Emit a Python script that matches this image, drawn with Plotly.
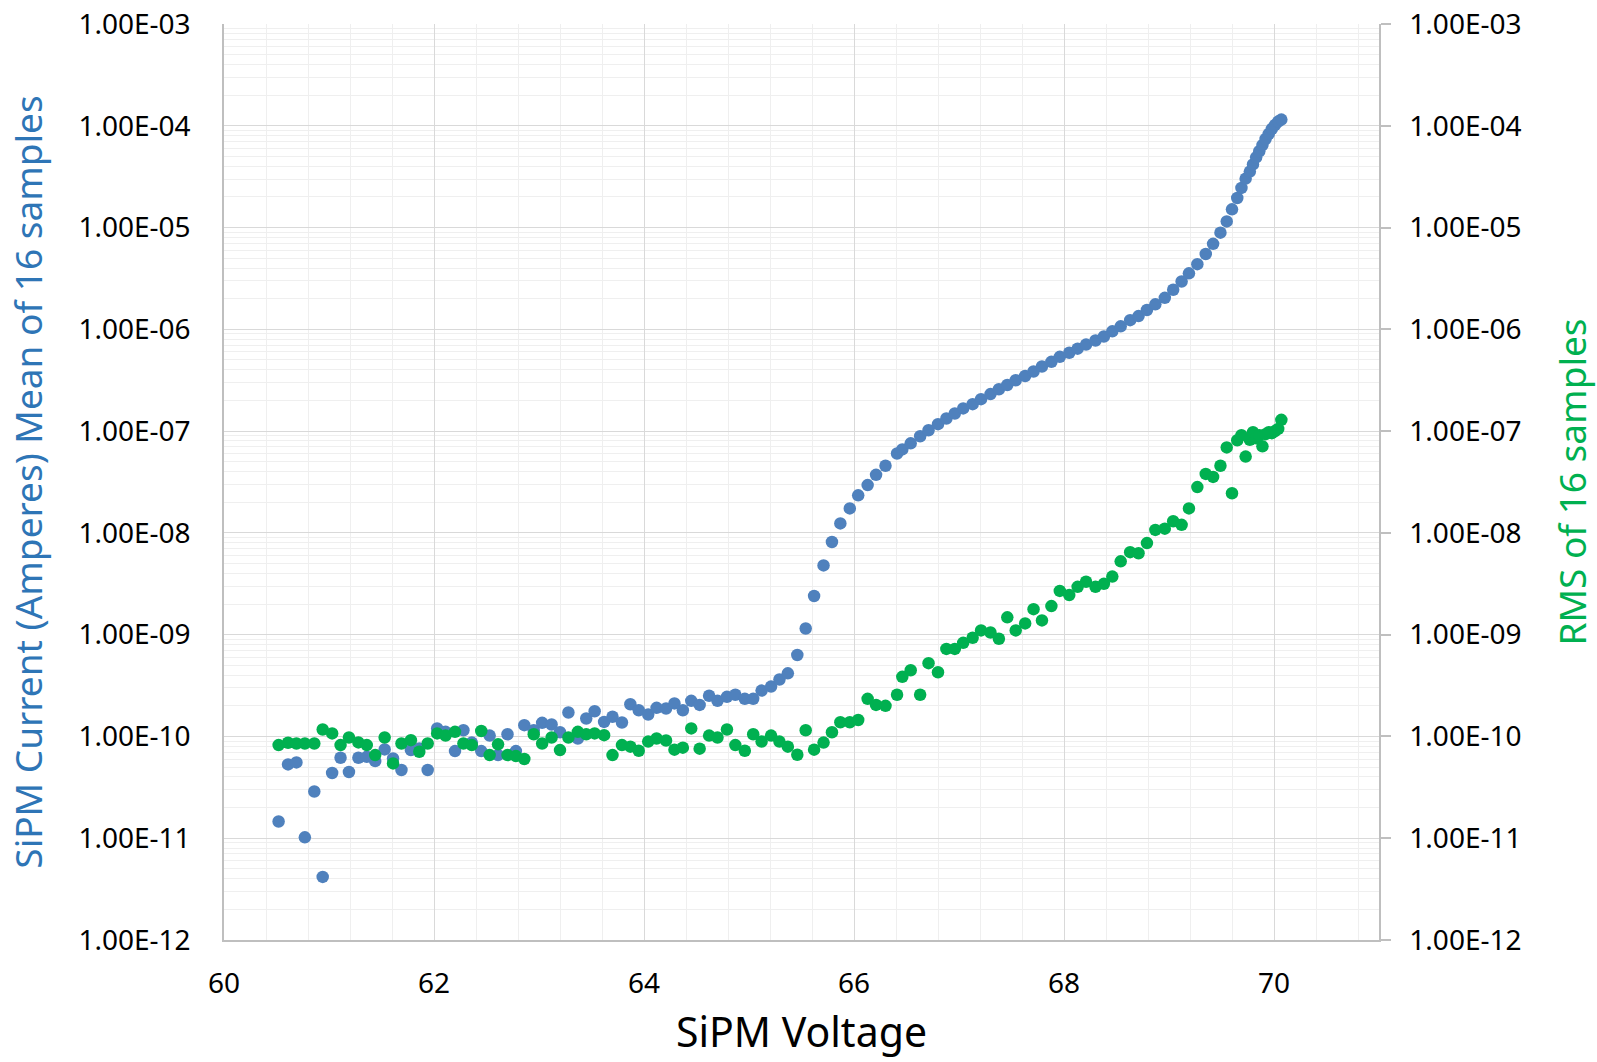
import plotly.graph_objects as go

# SiPM bias voltage (V)
voltage = [60.52, 60.61, 60.69, 60.77, 60.86, 60.94, 61.03, 61.11, 61.19, 61.28,
           61.36, 61.44, 61.53, 61.61, 61.69, 61.78, 61.86, 61.94, 62.03, 62.11,
           62.20, 62.28, 62.36, 62.45, 62.53, 62.61, 62.70, 62.78, 62.86, 62.95,
           63.03, 63.12, 63.20, 63.28, 63.37, 63.45, 63.53, 63.62, 63.70, 63.79,
           63.87, 63.95, 64.04, 64.12, 64.21, 64.29, 64.37, 64.45, 64.53, 64.62,
           64.70, 64.79, 64.87, 64.96, 65.04, 65.12, 65.21, 65.29, 65.37, 65.46,
           65.54, 65.62, 65.71, 65.79, 65.87, 65.96, 66.04, 66.13, 66.21, 66.30,
           66.41, 66.46, 66.54, 66.63, 66.71, 66.80, 66.88, 66.96, 67.04, 67.13,
           67.21, 67.30, 67.38, 67.46, 67.54, 67.63, 67.71, 67.79, 67.88, 67.96,
           68.05, 68.13, 68.21, 68.30, 68.38, 68.46, 68.54, 68.63, 68.71, 68.79,
           68.87, 68.96, 69.04, 69.12, 69.19, 69.27, 69.35, 69.42, 69.49, 69.55,
           69.60, 69.65, 69.69, 69.73, 69.77, 69.80, 69.83, 69.86, 69.89, 69.92,
           69.95, 69.98, 70.01, 70.04, 70.07]

# Mean of 16 samples (A)
mean_current = [1.46e-11, 5.31e-11, 5.56e-11, 1.02e-11, 2.88e-11, 4.17e-12, 4.37e-11, 6.17e-11, 4.47e-11, 6.17e-11,
                6.31e-11, 5.73e-11, 7.46e-11, 6.08e-11, 4.68e-11, 7.35e-11, 7.62e-11, 4.68e-11, 1.20e-10, 1.11e-10,
                7.18e-11, 1.15e-10, 8.71e-11, 7.18e-11, 1.02e-10, 6.56e-11, 1.05e-10, 7.18e-11, 1.29e-10, 1.15e-10,
                1.36e-10, 1.31e-10, 1.10e-10, 1.72e-10, 9.55e-11, 1.50e-10, 1.77e-10, 1.39e-10, 1.56e-10, 1.37e-10,
                2.07e-10, 1.81e-10, 1.64e-10, 1.91e-10, 1.88e-10, 2.11e-10, 1.81e-10, 2.24e-10, 2.04e-10, 2.51e-10,
                2.24e-10, 2.45e-10, 2.57e-10, 2.34e-10, 2.34e-10, 2.82e-10, 3.09e-10, 3.63e-10, 4.17e-10, 6.31e-10,
                1.15e-9, 2.40e-9, 4.79e-9, 8.13e-9, 1.24e-8, 1.74e-8, 2.34e-8, 2.95e-8, 3.72e-8, 4.57e-8,
                6.03e-8, 6.61e-8, 7.59e-8, 8.91e-8, 1.02e-7, 1.17e-7, 1.33e-7, 1.49e-7, 1.67e-7, 1.84e-7,
                2.06e-7, 2.31e-7, 2.58e-7, 2.84e-7, 3.16e-7, 3.48e-7, 3.85e-7, 4.31e-7, 4.79e-7, 5.37e-7,
                5.89e-7, 6.46e-7, 7.08e-7, 7.76e-7, 8.51e-7, 9.55e-7, 1.07e-6, 1.23e-6, 1.35e-6, 1.55e-6,
                1.76e-6, 2.04e-6, 2.45e-6, 2.95e-6, 3.55e-6, 4.37e-6, 5.50e-6, 6.92e-6, 8.91e-6, 1.15e-5,
                1.51e-5, 1.95e-5, 2.45e-5, 3.02e-5, 3.55e-5, 4.17e-5, 4.90e-5, 5.62e-5, 6.46e-5, 7.41e-5,
                8.32e-5, 9.33e-5, 1.02e-4, 1.10e-4, 1.15e-4]

# RMS of 16 samples (A)
rms_current = [8.22e-11, 8.67e-11, 8.53e-11, 8.53e-11, 8.53e-11, 1.17e-10, 1.07e-10, 8.22e-11, 9.77e-11, 8.73e-11,
               8.22e-11, 6.56e-11, 9.77e-11, 5.43e-11, 8.53e-11, 9.20e-11, 7.08e-11, 8.53e-11, 1.07e-10, 1.02e-10,
               1.11e-10, 8.53e-11, 8.22e-11, 1.13e-10, 6.56e-11, 8.36e-11, 6.56e-11, 6.41e-11, 6.00e-11, 1.05e-10,
               8.53e-11, 9.77e-11, 7.35e-11, 9.77e-11, 1.11e-10, 1.05e-10, 1.07e-10, 1.03e-10, 6.56e-11, 8.22e-11,
               7.94e-11, 7.24e-11, 8.91e-11, 9.55e-11, 9.12e-11, 7.41e-11, 7.76e-11, 1.20e-10, 7.59e-11, 1.02e-10,
               9.77e-11, 1.17e-10, 8.22e-11, 7.24e-11, 1.05e-10, 8.91e-11, 1.02e-10, 8.91e-11, 7.94e-11, 6.61e-11,
               1.15e-10, 7.41e-11, 8.71e-11, 1.10e-10, 1.38e-10, 1.38e-10, 1.45e-10, 2.34e-10, 2.04e-10, 2.00e-10,
               2.57e-10, 3.85e-10, 4.47e-10, 2.57e-10, 5.25e-10, 4.27e-10, 7.24e-10, 7.24e-10, 8.32e-10, 9.33e-10,
               1.10e-9, 1.05e-9, 9.12e-10, 1.48e-9, 1.10e-9, 1.29e-9, 1.78e-9, 1.38e-9, 1.91e-9, 2.69e-9,
               2.45e-9, 2.95e-9, 3.31e-9, 2.95e-9, 3.16e-9, 3.72e-9, 5.25e-9, 6.46e-9, 6.31e-9, 7.94e-9,
               1.07e-8, 1.10e-8, 1.30e-8, 1.20e-8, 1.74e-8, 2.82e-8, 3.80e-8, 3.55e-8, 4.57e-8, 6.92e-8,
               2.45e-8, 8.13e-8, 9.12e-8, 5.62e-8, 8.22e-8, 9.77e-8, 8.51e-8, 9.12e-8, 7.08e-8, 9.33e-8,
               9.77e-8, 9.55e-8, 1.00e-7, 1.05e-7, 1.29e-7]

y_tick_vals = [1e-12, 1e-11, 1e-10, 1e-9, 1e-8, 1e-7, 1e-6, 1e-5, 1e-4, 1e-3]
y_tick_text = ["1.00E-12", "1.00E-11", "1.00E-10", "1.00E-09", "1.00E-08",
               "1.00E-07", "1.00E-06", "1.00E-05", "1.00E-04", "1.00E-03"]

x_title = "SiPM Voltage"
y_title = "SiPM Current (Amperes) Mean of 16 samples"
y2_title = "RMS of 16 samples"

FONT = "Noto Sans"
BLUE = "#4F81BD"
GREEN = "#00B050"
MAJOR_GRID = "#D9D9D9"
MINOR_GRID = "#EFEFEF"
AXIS_LINE = "#BFBFBF"

minor_y = [m * v for v in y_tick_vals[:-1] for m in range(2, 10)]

fig = go.Figure()
fig.add_trace(go.Scatter(x=voltage, y=mean_current, mode="markers",
                         marker=dict(color=BLUE, size=12.5, line=dict(width=0)),
                         name="Mean", yaxis="y"))
fig.add_trace(go.Scatter(x=voltage, y=rms_current, mode="markers",
                         marker=dict(color=GREEN, size=12.5, line=dict(width=0)),
                         name="RMS", yaxis="y2"))

fig.update_layout(
    width=1597, height=1062,
    margin=dict(l=224, r=218, t=24, b=122, autoexpand=False),
    paper_bgcolor="white", plot_bgcolor="white",
    showlegend=False,
    font=dict(family=FONT, color="black"),
    xaxis=dict(
        range=[60, 71], tick0=60, dtick=2, tickmode="linear",
        showgrid=True, gridcolor=MAJOR_GRID, gridwidth=1.3,
        minor=dict(tick0=60, dtick=0.4, showgrid=True, gridcolor=MINOR_GRID, gridwidth=1),
        showline=True, linecolor=AXIS_LINE, linewidth=1.5,
        ticks="", zeroline=False,
        tickfont=dict(family=FONT, size=28, color="black"),
        ticklabelstandoff=18,
        ticklabeloverflow="allow",
        title=dict(text=x_title, font=dict(family=FONT, size=41, color="black"), standoff=18),
        automargin=False,
    ),
    yaxis=dict(
        type="log", range=[-12, -3],
        tickmode="array", tickvals=y_tick_vals, ticktext=y_tick_text,
        showgrid=True, gridcolor=MAJOR_GRID, gridwidth=1.3,
        minor=dict(tickmode="array", tickvals=minor_y, showgrid=True, gridcolor=MINOR_GRID, gridwidth=1),
        showline=True, linecolor=AXIS_LINE, linewidth=1.5,
        ticks="", zeroline=False,
        tickfont=dict(family=FONT, size=28, color="black"),
        ticklabelstandoff=26,
        ticklabeloverflow="allow",
        title=dict(text=y_title, font=dict(family=FONT, size=37, color="#2E75B6"), standoff=25),
        automargin=False,
    ),
    yaxis2=dict(
        type="log", range=[-12, -3], overlaying="y", side="right",
        tickmode="array", tickvals=y_tick_vals, ticktext=y_tick_text,
        showgrid=False, zeroline=False,
        showline=True, linecolor=AXIS_LINE, linewidth=1.5,
        ticks="outside", ticklen=10, tickcolor=AXIS_LINE, tickwidth=1.5,
        tickfont=dict(family=FONT, size=28, color="black"),
        ticklabelstandoff=13,
        ticklabeloverflow="allow",
        title=dict(text=y2_title, font=dict(family=FONT, size=37, color=GREEN), standoff=41),
        automargin=False,
    ),
)

fig.write_html("out.html",
               config={"displayModeBar": False},
               post_script="document.body.style.margin='0px';document.body.style.overflow='hidden';")
